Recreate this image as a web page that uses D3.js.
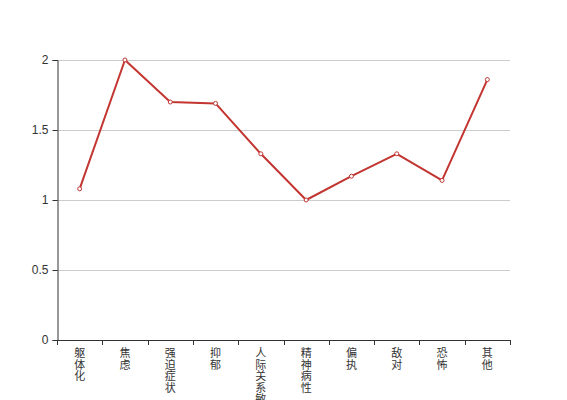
<!DOCTYPE html>
<html><head><meta charset="utf-8">
<script src="https://cdn.jsdelivr.net/npm/d3@7"></script>
<style>body{margin:0;background:#fff;}svg{display:block;}</style>
</head><body>
<svg id="c" width="567" height="400"></svg>
<script>
const categories = ["躯体化","焦虑","强迫症状","抑郁","人际关系敏感","精神病性","偏执","敌对","恐怖","其他"];
const values = [1.08, 2.0, 1.70, 1.69, 1.33, 1.00, 1.17, 1.33, 1.14, 1.86];
const yTicks = [0, 0.5, 1, 1.5, 2];

const svg = d3.select("#c");
const m = {l:57, r:510, t:60, b:340};
const cjk = "'Noto Sans CJK SC', sans-serif";
const num = "'Liberation Sans', Arial, sans-serif";

const x = d3.scaleBand().domain(categories).range([m.l, m.r]);
const y = d3.scaleLinear().domain([0, 2]).range([m.b, m.t]);

// grid
svg.append("g").selectAll("line").data(yTicks.filter(d=>d>0)).join("line")
  .attr("x1", m.l).attr("x2", m.r)
  .attr("y1", d=>Math.round(y(d))+0.5).attr("y2", d=>Math.round(y(d))+0.5)
  .attr("stroke", "#ccc").attr("stroke-width", 1);

// y axis
const ya = svg.append("g").attr("transform", `translate(${m.l+0.5},0)`)
  .call(d3.axisLeft(y).tickValues(yTicks).tickFormat(d=>String(d)).tickSize(5).tickPadding(4));
ya.select(".domain").attr("stroke", "#333");
ya.selectAll(".tick line").attr("stroke", "#333");
ya.selectAll(".tick text").attr("fill", "#333").style("font", `12px ${num}`);

// x axis
const xa = svg.append("g").attr("transform", `translate(0,${m.b+0.5})`)
  .call(d3.axisBottom(x).tickSize(0).tickFormat(""));
xa.select(".domain").attr("stroke", "#333").attr("d", `M${m.l},0H${m.r}`);
const bounds = categories.map(c=>x(c)).concat([m.r]);
svg.append("g").selectAll("line").data(bounds).join("line")
  .attr("x1", d=>Math.round(d)+0.5).attr("x2", d=>Math.round(d)+0.5)
  .attr("y1", m.b).attr("y2", m.b+5).attr("stroke", "#333");

// vertical labels
const lbl = svg.append("g");
categories.forEach(c=>{
  const cx = x(c) + x.bandwidth()/2;
  const t = lbl.append("text").attr("fill", "#333").attr("text-anchor","middle")
    .style("font", `11px ${cjk}`);
  [...c].forEach((ch,i)=>{
    t.append("tspan").attr("x", cx).attr("y", 357 + i*11.5).text(ch);
  });
});

// line
const line = d3.line().x((d,i)=>x(categories[i])+x.bandwidth()/2).y(d=>y(d));
svg.append("path").datum(values).attr("d", line)
  .attr("fill","none").attr("stroke","#c23531").attr("stroke-width",2).attr("stroke-linejoin","round");
svg.append("g").selectAll("circle").data(values).join("circle")
  .attr("cx",(d,i)=>x(categories[i])+x.bandwidth()/2).attr("cy",d=>y(d)).attr("r",2)
  .attr("fill","#fff").attr("stroke","#c23531").attr("stroke-width",1);
</script>
</body></html>
